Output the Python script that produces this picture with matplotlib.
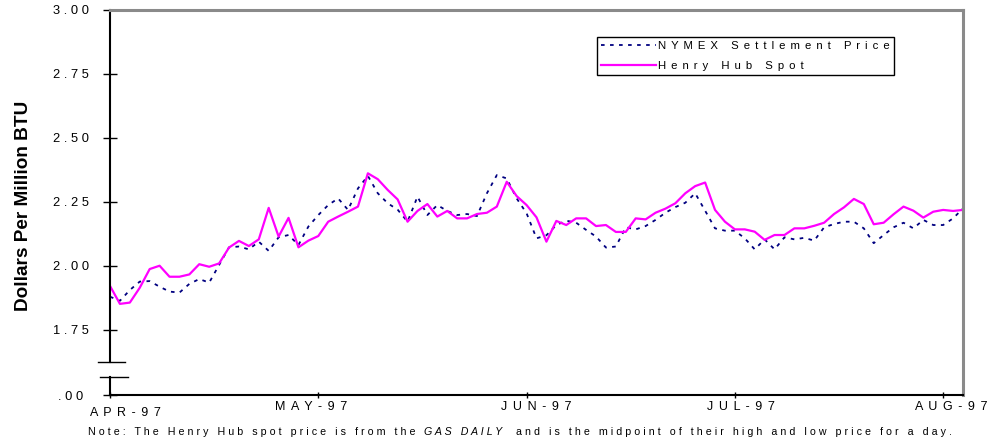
import numpy as np
import matplotlib
matplotlib.use("Agg")
import matplotlib.pyplot as plt
from matplotlib.transforms import ScaledTranslation

# Daily prices, Apr-97 .. Aug-97, dollars per million BTU
nymex = [1.880, 1.864, 1.906, 1.939, 1.941, 1.919, 1.900, 1.896, 1.930, 1.949,
         1.935, 2.004, 2.073, 2.076, 2.065, 2.095, 2.059, 2.112, 2.121, 2.082,
         2.154, 2.199, 2.238, 2.264, 2.219, 2.303, 2.352, 2.284, 2.245, 2.220,
         2.173, 2.271, 2.199, 2.238, 2.215, 2.199, 2.203, 2.195, 2.284, 2.355,
         2.342, 2.264, 2.206, 2.108, 2.120, 2.160, 2.177, 2.169, 2.141, 2.115,
         2.072, 2.076, 2.151, 2.143, 2.156, 2.180, 2.208, 2.230, 2.247, 2.284,
         2.216, 2.147, 2.138, 2.138, 2.108, 2.065, 2.104, 2.065, 2.112, 2.104,
         2.110, 2.099, 2.151, 2.164, 2.173, 2.173, 2.147, 2.089, 2.121, 2.151,
         2.169, 2.147, 2.180, 2.160, 2.160, 2.186, 2.225]

henry_hub = [1.922, 1.852, 1.857, 1.915, 1.988, 2.001, 1.958, 1.958, 1.967, 2.007,
             1.997, 2.010, 2.072, 2.098, 2.078, 2.104, 2.227, 2.115, 2.188, 2.073,
             2.099, 2.117, 2.173, 2.193, 2.212, 2.232, 2.362, 2.339, 2.297, 2.260,
             2.173, 2.215, 2.242, 2.193, 2.215, 2.186, 2.186, 2.203, 2.208, 2.232,
             2.329, 2.273, 2.238, 2.190, 2.095, 2.176, 2.160, 2.186, 2.186, 2.156,
             2.160, 2.133, 2.133, 2.186, 2.182, 2.208, 2.224, 2.245, 2.284, 2.312,
             2.326, 2.219, 2.173, 2.143, 2.143, 2.134, 2.102, 2.121, 2.121, 2.147,
             2.147, 2.157, 2.169, 2.203, 2.229, 2.262, 2.242, 2.163, 2.169, 2.202,
             2.232, 2.216, 2.189, 2.212, 2.219, 2.215, 2.219]

series_names = ["NYMEX Settlement Price", "Henry Hub Spot"]
months = ["APR-97", "MAY-97", "JUN-97", "JUL-97", "AUG-97"]
ytick_values = [1.75, 2.00, 2.25, 2.50, 2.75, 3.00]
ytick_labels = ["1.75", "2.00", "2.25", "2.50", "2.75", "3.00"]
zero_label = ".00"
ylabel = "Dollars Per Million BTU"
note_parts = ["Note: The Henry Hub spot price is from the",
              "GAS DAILY",
              "and is the midpoint of their high and low price for a day."]

DAYS_PER_TICK = 21          # one month label every 21 trading days
FLOOR = 1.75 - 0.254        # where the broken axis puts ".00"
BREAK_HI = 1.625
BREAK_LO = 1.566

# the old chart letter-spaces every label
SEP = " \u2006"


def spaced(s, sep=SEP):
    return sep.join(s)


def px(v):
    # pixels -> points at dpi 100
    return v * 72.0 / 100.0


def main():
    plt.rcParams['font.family'] = ['Liberation Sans', 'DejaVu Sans']

    fig = plt.figure(figsize=(9.95, 4.4), dpi=100)
    ax = fig.add_axes([110 / 995, 45 / 440, 853 / 995, 385 / 440])

    x = np.arange(len(henry_hub))
    ax.plot(x, nymex, color='#000080', lw=1.3, ls=(0, (2, 3)),
            label=spaced(series_names[0]))
    ax.plot(x, henry_hub, color='#ff00ff', lw=1.6,
            label=spaced(series_names[1]))

    ax.set_xlim(0, len(x) - 1)
    ax.set_ylim(FLOOR, 3.0)

    # y axis with a break between .00 and 1.75
    ax.set_yticks([FLOOR] + ytick_values)
    ax.set_yticklabels([spaced(zero_label, " ")] + [spaced(t, " ") for t in ytick_labels])
    ax.tick_params(axis='y', direction='inout', length=9.5, width=1,
                   pad=10.5, labelsize=9.3, colors='black')
    zl = ax.get_yticklabels()[0]
    zl.set_transform(zl.get_transform() +
                     ScaledTranslation(-6 / 100, 0, fig.dpi_scale_trans))
    ax.spines['left'].set_visible(False)
    yt = ax.get_yaxis_transform()
    ax.plot([0, 0], [FLOOR, BREAK_LO], transform=yt, clip_on=False, color='black', lw=1.5)
    ax.plot([0, 0], [BREAK_HI, 3.0], transform=yt, clip_on=False, color='black', lw=1.5)
    ax.plot([-0.014, 0.0176], [BREAK_HI, BREAK_HI], transform=yt, clip_on=False,
            color='black', lw=1)
    ax.plot([-0.0117, 0.021], [BREAK_LO, BREAK_LO], transform=yt, clip_on=False,
            color='black', lw=1)

    # month ticks
    ax.set_xticks(np.arange(len(months)) * DAYS_PER_TICK)
    ax.set_xticklabels([spaced(m) for m in months])
    ax.tick_params(axis='x', direction='inout', length=4.5, width=1,
                   pad=2, labelsize=9, colors='black')
    nudges = [(15, -6.5), (-7, 0), (10, 0), (6, 0), (8, 0)]
    for lab, (dx, dy) in zip(ax.get_xticklabels(), nudges):
        lab.set_transform(lab.get_transform() +
                          ScaledTranslation(dx / 100, dy / 100, fig.dpi_scale_trans))

    ax.spines['bottom'].set_color('black')
    ax.spines['bottom'].set_linewidth(1.5)
    for side in ['top', 'right']:
        ax.spines[side].set_color('#8a8a8a')
        ax.spines[side].set_linewidth(2.2)

    ax.set_ylabel(ylabel, fontsize=13.7, fontweight='bold', va='center')
    ax.yaxis.set_label_coords((23 - 110) / 853, 0.49)

    leg = ax.legend(loc='upper left', bbox_to_anchor=(597 / 995, 1 - 37 / 440),
                    bbox_transform=fig.transFigure, borderaxespad=0,
                    fancybox=False, edgecolor='black', framealpha=1,
                    fontsize=8.2, handlelength=4.8, handletextpad=0.25,
                    borderpad=0.35, labelspacing=0.85)
    leg.get_frame().set_linewidth(1.0)

    # footnote, GAS DAILY in italics
    t1 = fig.text(88 / 995, 1 - 437 / 440, spaced(note_parts[0], " "),
                  fontsize=7.7, ha='left', va='bottom')
    t2 = ax.annotate(spaced(note_parts[1], " "), xy=(1, 0), xycoords=t1,
                     xytext=(px(9), 0), textcoords='offset points',
                     fontsize=7.7, style='italic', ha='left', va='bottom')
    ax.annotate(spaced(note_parts[2], " "), xy=(1, 0), xycoords=t2,
                xytext=(px(13), 0), textcoords='offset points',
                fontsize=7.7, ha='left', va='bottom')

    fig.savefig("out.png", dpi=100)


if __name__ == "__main__":
    main()
